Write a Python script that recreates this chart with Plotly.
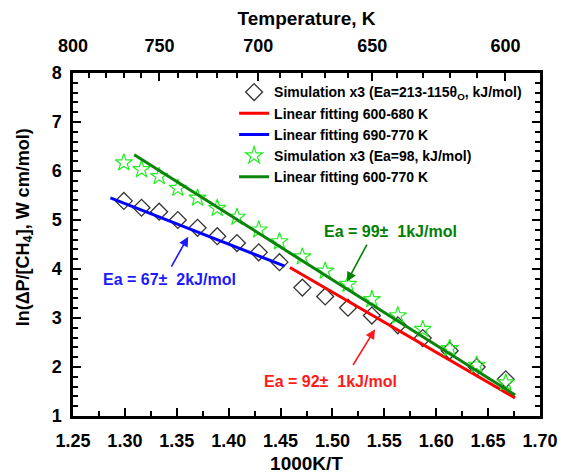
import plotly.graph_objects as go

# ---------------- data ----------------
inv_T = [1.299, 1.316, 1.333, 1.351, 1.370, 1.389, 1.408, 1.429, 1.449,
         1.471, 1.493, 1.515, 1.538, 1.563, 1.587, 1.613, 1.639, 1.667]
sim_theta = [5.39, 5.25, 5.17, 5.00, 4.84, 4.67, 4.53, 4.34, 4.14,
             3.62, 3.44, 3.21, 3.05, 2.85, 2.59, 2.33, 2.00, 1.75]
sim_98 = [6.17, 6.03, 5.89, 5.65, 5.45, 5.24, 5.06, 4.80, 4.56,
          4.25, 3.96, 3.69, 3.38, 3.05, 2.77, 2.38, 2.04, 1.68]

fit_red_x = [1.459, 1.676]
fit_red_y = [4.03, 1.37]
fit_blue_x = [1.286, 1.454]
fit_blue_y = [5.45, 4.06]
fit_green_x = [1.309, 1.676]
fit_green_y = [6.33, 1.43]

temp_major = [800, 750, 700, 650, 600]
temp_minor = [790, 780, 770, 760, 740, 730, 720, 710, 690, 680, 670, 660,
              640, 630, 620, 610]

# annotations: text, text position, arrow tail, arrow head, colour
ann_texts = ["Ea = 67±\u00a0 2kJ/mol", "Ea = 99±\u00a0 1kJ/mol", "Ea = 92±\u00a0 1kJ/mol"]
ann_text_xy = [(1.343, 3.78), (1.556, 4.76), (1.498, 1.70)]
ann_tail = [(1.344, 4.02), (1.534, 4.53), (1.519, 2.01)]
ann_head = [(1.361, 4.66), (1.514, 3.74), (1.541, 2.77)]
ann_colors = ["#1a1aff", "#008000", "#ff1a1a"]

FONT = "Liberation Sans, Arial, sans-serif"

fig = go.Figure()
fig.add_trace(go.Scatter(
    x=inv_T, y=sim_theta, mode="markers",
    name="Simulation x3 (Ea=213-115θ<sub>O</sub>, kJ/mol)",
    marker=dict(symbol="diamond-open", size=13, color="#333333",
                line=dict(width=1.3, color="#333333"))))
fig.add_trace(go.Scatter(x=fit_red_x, y=fit_red_y, mode="lines",
                         name="Linear fitting 600-680 K",
                         line=dict(color="#ff0000", width=3)))
fig.add_trace(go.Scatter(x=fit_blue_x, y=fit_blue_y, mode="lines",
                         name="Linear fitting 690-770 K",
                         line=dict(color="#0000ff", width=3)))
fig.add_trace(go.Scatter(
    x=inv_T, y=sim_98, mode="markers",
    name="Simulation x3 (Ea=98, kJ/mol)",
    marker=dict(symbol="star-open", size=13, color="#22ee22",
                line=dict(width=1.2, color="#22ee22"))))
fig.add_trace(go.Scatter(x=fit_green_x, y=fit_green_y, mode="lines",
                         name="Linear fitting 600-770 K",
                         line=dict(color="#0a850a", width=3)))
# anchor trace for the top temperature axis
fig.add_trace(go.Scatter(x=[], y=[], xaxis="x2", showlegend=False,
                         hoverinfo="skip"))

annotations = []
for t, (tx, ty), (ax, ay), (hx, hy), c in zip(ann_texts, ann_text_xy,
                                              ann_tail, ann_head, ann_colors):
    annotations.append(dict(x=tx, y=ty, xref="x", yref="y", text=t,
                            showarrow=False,
                            font=dict(family=FONT, size=16, color=c,
                                      weight="bold")))
    annotations.append(dict(x=hx, y=hy, ax=ax, ay=ay, xref="x", yref="y",
                            axref="x", ayref="y", text="", showarrow=True,
                            arrowhead=2, arrowsize=1.2, arrowwidth=1.6,
                            arrowcolor=c))

# y-axis title placed as a rotated annotation
annotations.append(dict(x=-0.105, y=0.55, xref="paper", yref="paper",
                        text="ln(ΔP/[CH<sub>4</sub>], W cm/mol)",
                        textangle=-90, showarrow=False,
                        xanchor="center", yanchor="middle",
                        font=dict(family=FONT, size=18, color="black",
                                  weight="bold")))

axis_common = dict(showline=True, linecolor="black", linewidth=2.5,
                   ticks="inside", tickwidth=2, tickcolor="black",
                   showgrid=False, zeroline=False, automargin=False,
                   tickfont=dict(family=FONT, size=18, color="black",
                                 weight="bold"))

fig.update_layout(
    width=561, height=474,
    margin=dict(l=73, r=21, t=73, b=58),
    paper_bgcolor="white", plot_bgcolor="white",
    font=dict(family=FONT, color="black"),
    xaxis=dict(range=[1.25, 1.70], tickmode="linear", tick0=1.25, dtick=0.05,
               tickformat=".2f", ticklen=8, mirror=False,
               ticklabelstandoff=7,
               minor=dict(ticks="inside", ticklen=5, tickwidth=2,
                          tickcolor="black", dtick=0.025, tick0=1.25),
               title=dict(text="1000K/T", standoff=8,
                          font=dict(family=FONT, size=19, weight="bold")),
               **axis_common),
    xaxis2=dict(range=[1.25, 1.70], overlaying="x", side="top", anchor="y",
                tickmode="array",
                tickvals=[1000 / t for t in temp_major],
                ticktext=[str(t) for t in temp_major], ticklen=8,
                ticklabelstandoff=11,
                minor=dict(ticks="inside", ticklen=5, tickwidth=2,
                           tickcolor="black",
                           tickvals=[1000 / t for t in temp_minor]),
                title=dict(text="Temperature, K", standoff=6,
                           font=dict(family=FONT, size=19, weight="bold")),
                **axis_common),
    yaxis=dict(range=[1, 8], tickmode="linear", tick0=1, dtick=1, ticklen=8,
               mirror="ticks", ticklabelstandoff=5,
               minor=dict(ticks="inside", ticklen=5, tickwidth=2,
                          tickcolor="black", dtick=0.2),
               **axis_common),
    legend=dict(x=0.345, y=0.99, xanchor="left", yanchor="top",
                bgcolor="rgba(0,0,0,0)", tracegroupgap=0,
                font=dict(family=FONT, size=14, color="black", weight="bold")),
    annotations=annotations,
)

fig.write_html("out.html")
